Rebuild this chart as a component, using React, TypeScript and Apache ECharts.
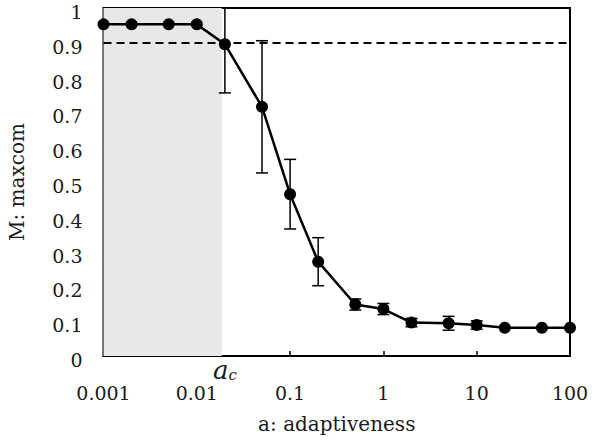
import React, { useEffect, useRef } from "react";
import * as echarts from "echarts";

const xValues = [0.001, 0.002, 0.005, 0.01, 0.02, 0.05, 0.1, 0.2, 0.5, 1, 2, 5, 10, 20, 50, 100];
const mValues = [0.953, 0.953, 0.953, 0.953, 0.896, 0.716, 0.465, 0.271, 0.148, 0.135, 0.096, 0.094, 0.089, 0.081, 0.081, 0.081];
const errValues = [0, 0, 0, 0, 0.14, 0.19, 0.10, 0.069, 0.016, 0.016, 0.012, 0.02, 0.012, 0.004, 0.004, 0.004];
const xTickLabels: Record<string, string> = {
  "0.001": "0.001",
  "0.01": "0.01",
  "0.1": "0.1",
  "1": "1",
  "10": "10",
  "100": "100",
};
const threshold = 0.9;
const criticalA = 0.0185;

const FONT = "'DejaVu Serif', 'Liberation Serif', serif";

export default function App() {
  const ref = useRef<HTMLDivElement>(null);
  useEffect(() => {
    if (!ref.current) return;
    const chart = echarts.init(ref.current, undefined, { renderer: "svg" });
    const lineData = xValues.map((x, i) => [x, mValues[i]]);
    const errData = xValues
      .map((x, i) => [x, mValues[i] - errValues[i], mValues[i] + errValues[i]])
      .filter((_, i) => errValues[i] > 0.006);
    const yMax = 1;
    chart.setOption({
      animation: false,
      grid: {
        left: 103.5,
        right: 24,
        top: 8,
        bottom: 87,
        outerBoundsMode: "none",
        containLabel: false,
        show: true,
        borderColor: "#000",
        borderWidth: 2,
        backgroundColor: "transparent",
      },
      xAxis: {
        type: "log",
        logBase: 10,
        min: 0.001,
        max: 100,
        name: "a: adaptiveness",
        nameLocation: "middle",
        nameGap: 58,
        nameTextStyle: { fontFamily: FONT, fontSize: 20, color: "#1a1a1a" },
        axisLine: { show: true, lineStyle: { color: "#000", width: 2 } },
        axisTick: { show: true, inside: true, length: 5, lineStyle: { color: "#000", width: 1.5 } },
        minorTick: { show: false },
        splitLine: { show: false },
        axisLabel: {
          fontFamily: FONT,
          fontSize: 19,
          color: "#1a1a1a",
          margin: 27,
          formatter: (v: number) => {
            const k = String(+v.toPrecision(3));
            return xTickLabels[k] ?? k;
          },
        },
      },
      yAxis: {
        type: "value",
        min: 0,
        max: yMax,
        interval: 0.1,
        name: "M: maxcom",
        nameLocation: "middle",
        nameGap: 77,
        nameTextStyle: { fontFamily: FONT, fontSize: 20, color: "#1a1a1a" },
        axisLine: { show: true, lineStyle: { color: "#000", width: 2 } },
        axisTick: { show: true, inside: true, length: 5, lineStyle: { color: "#000", width: 1.5 } },
        splitLine: { show: false },
        axisLabel: {
          margin: 21,
          formatter: (v: number) => "{v|" + String(+v.toFixed(1)) + "}",
          rich: {
            v: { fontFamily: FONT, fontSize: 19, color: "#1a1a1a", padding: [8, 0, 0, 0] },
          },
        },
      },
      series: [
        {
          type: "line",
          data: lineData,
          symbol: "circle",
          symbolSize: 12,
          z: 3,
          lineStyle: { color: "#000", width: 2.5 },
          itemStyle: { color: "#000" },
          markArea: {
            silent: true,
            itemStyle: { color: "#e8e8e8" },
            data: [[{ xAxis: 0.001 }, { xAxis: criticalA }]],
          },
          markLine: {
            silent: true,
            symbol: ["none", "none"],
            label: { show: false },
            lineStyle: { color: "#000", width: 2, type: [8, 5] },
            data: [{ yAxis: threshold }],
          },
        },
        {
          type: "custom",
          z: 2,
          data: errData,
          renderItem: (params: any, api: any) => {
            const x = api.value(0);
            const lo = api.value(1);
            const hi = api.value(2);
            const top = api.coord([x, Math.min(hi, yMax)]);
            const bot = api.coord([x, lo]);
            const cw = 6;
            const style = { stroke: "#000", lineWidth: 1.5 };
            const children: any[] = [
              { type: "line", shape: { x1: top[0], y1: top[1], x2: bot[0], y2: bot[1] }, style },
              { type: "line", shape: { x1: bot[0] - cw, y1: bot[1], x2: bot[0] + cw, y2: bot[1] }, style },
            ];
            if (hi <= yMax) {
              children.push({ type: "line", shape: { x1: top[0] - cw, y1: top[1], x2: top[0] + cw, y2: top[1] }, style });
            }
            return { type: "group", children };
          },
        },
      ],
      graphic: [
        {
          type: "text",
          left: 213,
          top: 357,
          style: {
            text: "{a|a}{c|c}",
            rich: {
              a: { fontFamily: FONT, fontStyle: "italic", fontSize: 26, fill: "#1a1a1a" },
              c: { fontFamily: FONT, fontStyle: "italic", fontSize: 15, fill: "#1a1a1a", padding: [9, 0, 0, 0] },
            },
          },
        },
      ],
    });
    return () => chart.dispose();
  }, []);
  return <div ref={ref} style={{ width: 594, height: 443, position: "absolute", left: 0, top: 0 }} />;
}
